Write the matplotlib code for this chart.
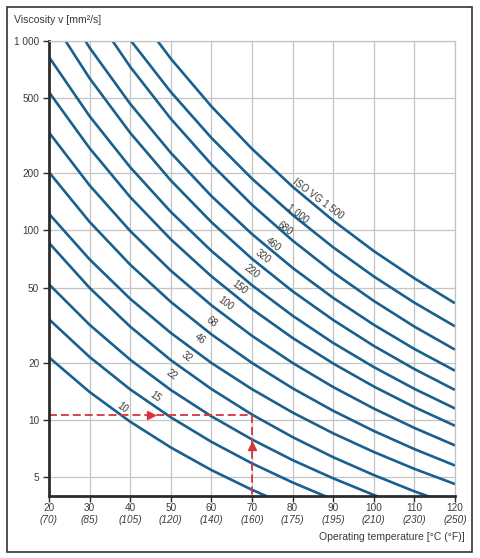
import numpy as np
import matplotlib
matplotlib.use("Agg")
import matplotlib.pyplot as plt
from matplotlib.patches import Rectangle

plt.rcParams["font.family"] = ["Liberation Sans", "DejaVu Sans"]

nan = np.nan

# temperature grid, deg C, and the matching deg F labels
temps = [20, 30, 40, 50, 60, 70, 80, 90, 100, 110, 120]
temps_f = ["(70)", "(85)", "(105)", "(120)", "(140)", "(160)",
           "(175)", "(195)", "(210)", "(230)", "(250)"]

# viscosity [mm2/s] at the temps above
vg10 = [21.4, 14.05, 9.79, 7.16, 5.44, 4.28, 3.45, 2.85, nan, nan, nan]
vg15 = [34.0, 21.5, 14.5, 10.33, 7.67, 5.90, 4.68, 3.80, 3.15, nan, nan]
vg22 = [52.0, 31.8, 20.8, 14.4, 10.46, 7.89, 6.14, 4.92, 4.02, 3.36, 2.85]
vg32 = [86.0, 49.8, 31.1, 20.7, 14.57, 10.68, 8.12, 6.36, 5.12, 4.20, 3.52]
vg46 = [122.5, 70.4, 43.6, 28.8, 20.0, 14.54, 10.95, 8.50, 6.78, 5.52, 4.59]
vg68 = [203, 111.0, 66.0, 42.0, 28.3, 20.0, 14.70, 11.18, 8.75, 7.02, 5.75]
vg100 = [329, 173.0, 99.4, 61.4, 40.3, 27.8, 20.0, 14.92, 11.49, 9.08, 7.34]
vg150 = [537, 271.8, 150.1, 89.8, 57.3, 38.5, 27.1, 19.86, 15.02, 11.69, 9.32]
vg220 = [823, 400.9, 215.7, 125.5, 78.0, 51.4, 35.5, 25.5, 19.02, 14.60, 11.5]
vg320 = [1367, 635.7, 327.5, 183.7, 110.7, 70.9, 47.8, 33.7, 24.6, 18.57, 14.4]
vg460 = [2029, 922, 465.8, 257.0, 151.9, 95.7, 63.5, 44.1, 31.8, 23.7, 18.2]
vg680 = [nan, 1507, 731, 388.8, 223.4, 136.7, 88.5, 60.1, 42.5, 31.1, 23.5]
vg1000 = [nan, 2081, 1014, 538.3, 308.2, 187.7, 120.8, 81.5, 57.2, 41.6, 31.2]
vg1500 = [nan, nan, 1557, 807, 451.7, 269.7, 170.2, 112.8, 77.9, 55.9, 41.3]

curves = [vg10, vg15, vg22, vg32, vg46, vg68, vg100, vg150, vg220,
          vg320, vg460, vg680, vg1000, vg1500]

grade_labels = ["10", "15", "22", "32", "46", "68", "100", "150", "220",
                "320", "460", "680", "1 000", "ISO VG 1 500"]

yticks = [5, 10, 20, 50, 100, 200, 500, 1000]
ytick_labels = ["5", "10", "20", "50", "100", "200", "500", "1 000"]

# worked example: 70 deg C operating temperature -> required viscosity
example_temp = 70
example_visc = 10.6

# where the grade labels sit (deg C, mm2/s, rotation)
label_pos = [(38.2, 11.6, -36), (46.1, 13.3, -36), (50.2, 17.3, -36),
             (53.9, 21.6, -37), (57.2, 26.9, -37), (60.1, 32.9, -37),
             (63.6, 41.3, -37), (67.0, 50.0, -37), (69.9, 60.6, -37),
             (72.8, 72.6, -37), (75.2, 84.8, -37), (78.1, 103, -37),
             (81.2, 122, -37), (86.3, 146, -37)]

W, H = 481, 558
fig = plt.figure(figsize=(W / 100, H / 100), dpi=100)
ax = fig.add_axes([49 / W, 1 - 496 / H, (455 - 49) / W, (496 - 41) / H])

blue = "#19608f"
red = "#d8343c"
grid = "#c4c4c4"
dark = "#2b2b2b"
txt = "#3a3a3a"

for vals in curves:
    ax.plot(temps, vals, color=blue, lw=1.9, solid_capstyle="butt")

for lab, (x, y, rot) in zip(grade_labels, label_pos):
    ax.text(x, y, lab, fontsize=7, color=txt, rotation=rot,
            ha="center", va="center", rotation_mode="anchor")

ax.set_yscale("log")
ax.set_xlim(20, 120)
ax.set_ylim(3.97, 1000)

ax.set_yticks(yticks)
ax.set_yticklabels(ytick_labels)
ax.yaxis.set_minor_locator(matplotlib.ticker.NullLocator())
ax.set_xticks(temps)
ax.set_xticklabels([])
ax.grid(True, color=grid, lw=0.9)
ax.set_axisbelow(True)

for s in ["left", "bottom"]:
    ax.spines[s].set_linewidth(2.0)
    ax.spines[s].set_color(dark)
for s in ["top", "right"]:
    ax.spines[s].set_linewidth(0.9)
    ax.spines[s].set_color(grid)
ax.tick_params(direction="out", length=4, width=1, color=dark,
               labelsize=7.2, labelcolor=txt, pad=3)

for t, tf in zip(temps, temps_f):
    ax.text(t, -0.026, str(t), transform=ax.get_xaxis_transform(),
            ha="center", va="center", fontsize=7.2, color=txt)
    ax.text(t, -0.053, tf, transform=ax.get_xaxis_transform(),
            ha="center", va="center", fontsize=7.2, color=txt, style="italic")

# red dashed reading lines with arrow heads
dash = (0, (4.4, 2.2))
ax.plot([temps[0], example_temp], [example_visc, example_visc],
        color=red, lw=1.3, ls=dash)
ax.plot([example_temp, example_temp], [example_visc, 3.97],
        color=red, lw=1.3, ls=dash)
ax.plot([45], [example_visc], marker=">", ms=6, color=red, mec=red)
ax.plot([example_temp], [7.3], marker="^", ms=6, color=red, mec=red)

fig.text(14 / W, 1 - 20 / H, "Viscosity v [mm²/s]", ha="left", va="center",
         fontsize=7.6, color=txt)
fig.text(465 / W, 1 - 537 / H, "Operating temperature [°C (°F)]",
         ha="right", va="center", fontsize=7.5, color=txt)

fig.patches.append(Rectangle((7 / W, 1 - 552 / H), (472 - 7) / W,
                             (552 - 7) / H, fill=False, ec="#333333",
                             lw=1.2, transform=fig.transFigure))

fig.savefig("out.png", dpi=100, facecolor="white")
